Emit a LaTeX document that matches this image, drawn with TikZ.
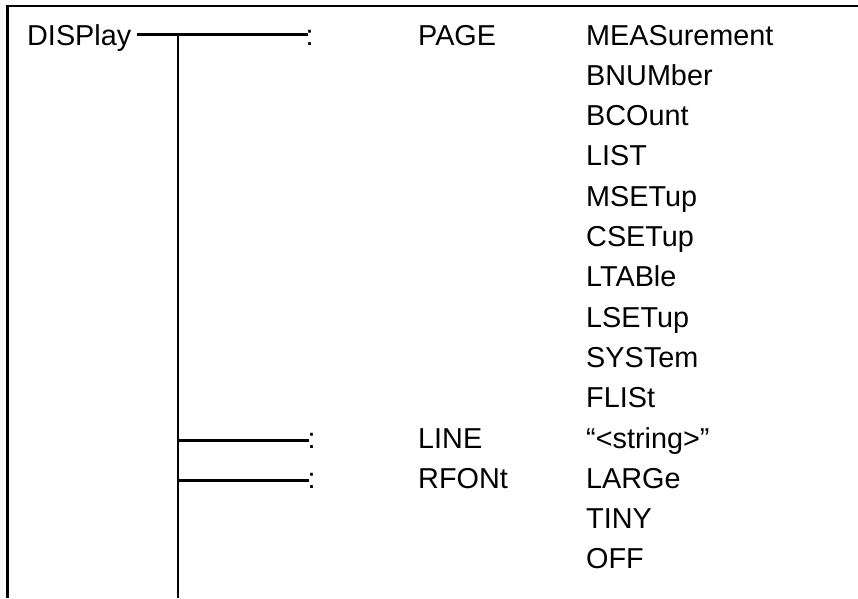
\documentclass[tikz,border=0pt]{standalone}
\usepackage{fontspec}
\setmainfont{Liberation Sans}
\begin{document}
\begin{tikzpicture}[x=1pt,y=-1pt,
  lbl/.style={anchor=base west, inner sep=0pt, font=\fontsize{28.8}{30}\selectfont},
  wire/.style={line width=2.7pt},
  frameline/.style={line width=2.2pt}]
\useasboundingbox (0,0) rectangle (858,598);
\fill[white] (0,0) rectangle (858,598);
% frame (top and left only)
\coordinate (fb) at (7.5,598);
\coordinate (fc) at (7.5,6);
\coordinate (fr) at (858,6);
\draw[frameline] (fb) -- (fc) -- (fr);
% level 0
\node[lbl] (display) at (27,45) {DISPlay};
% colons
\node[lbl] (c1) at (305.5,45) {:};
\node[lbl] (c2) at (307.5,448) {:};
\node[lbl] (c3) at (307.5,488.3) {:};
% middle column
\node[lbl] (page) at (418,45) {PAGE};
\node[lbl] (line) at (418,448) {LINE};
\node[lbl] (rfont) at (418,488.3) {RFONt};
% right column
\node[lbl] (r0) at (586,45) {MEASurement};
\node[lbl] (r1) at (586,85.3) {BNUMber};
\node[lbl] (r2) at (586,125.6) {BCOunt};
\node[lbl] (r3) at (586,165.9) {LIST};
\node[lbl] (r4) at (586,206.2) {MSETup};
\node[lbl] (r5) at (586,246.5) {CSETup};
\node[lbl] (r6) at (586,286.8) {LTABle};
\node[lbl] (r7) at (586,327.1) {LSETup};
\node[lbl] (r8) at (586,367.4) {SYSTem};
\node[lbl] (r9) at (586,407.7) {FLISt};
\node[lbl] (r10) at (586,448) {“<string>”};
\node[lbl] (r11) at (586,488.3) {LARGe};
\node[lbl] (r12) at (586,528.6) {TINY};
\node[lbl] (r13) at (586,568.9) {OFF};
% connectors
\coordinate (d0) at (137,34.7);
\coordinate (d1) at (308,34.7);
\coordinate (t0) at (178,34.7);
\coordinate (tb) at (178,598);
\coordinate (j2) at (178,440.3);
\coordinate (e2) at (309,440.3);
\coordinate (j3) at (178,480.6);
\coordinate (e3) at (309,480.6);
\draw[wire] (d0) -- (d1);
\draw[wire] (t0) -- (tb);
\draw[wire] (j2) -- (e2);
\draw[wire] (j3) -- (e3);
\end{tikzpicture}
\end{document}
